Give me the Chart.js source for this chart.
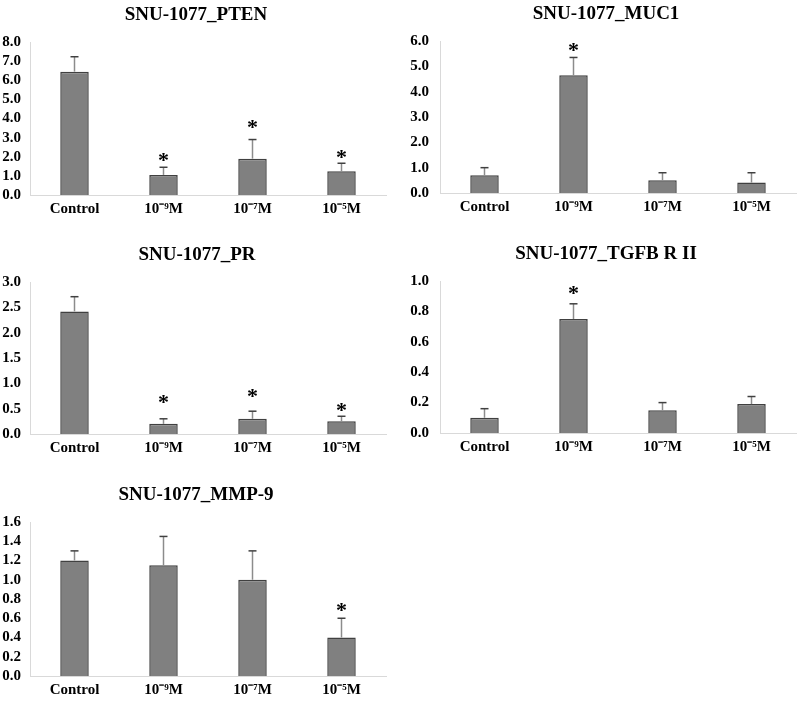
<!DOCTYPE html>
<html>
<head>
<meta charset="utf-8">
<title>SNU-1077 relative expression</title>
<script src="https://cdn.jsdelivr.net/npm/chart.js@4.4.1/dist/chart.umd.min.js"></script>
<style>
  html, body { margin: 0; padding: 0; background: #fff; }
  body { width: 798px; height: 708px; position: relative; overflow: hidden; }
  .panel { position: absolute; }
  .panel canvas { display: block; }
</style>
</head>
<body>
<div class="panel" style="left:0;top:0"><canvas id="cPTEN" width="398" height="225"></canvas></div>
<div class="panel" style="left:400px;top:-1px"><canvas id="cMUC1" width="398" height="224"></canvas></div>
<div class="panel" style="left:0;top:240px"><canvas id="cPR" width="398" height="224"></canvas></div>
<div class="panel" style="left:400px;top:239px"><canvas id="cTGFB" width="398" height="224"></canvas></div>
<div class="panel" style="left:0;top:480px"><canvas id="cMMP9" width="398" height="226"></canvas></div>

<script>
/* SNU-1077 · relative expression, 5 bar panels with SD error bars and * marks */

// ----- data -----
const CATEGORIES = ['Control', '10⁻⁹M', '10⁻⁷M', '10⁻⁵M'];

const PTEN_MEAN = [6.45, 1.05, 1.9, 1.24];
const PTEN_ERR  = [0.78, 0.4, 1.0, 0.42];
const PTEN_STAR = [null, 2.05, 3.75, 2.2];

const MUC1_MEAN = [0.7, 4.65, 0.5, 0.41];
const MUC1_ERR  = [0.3, 0.7, 0.3, 0.39];
const MUC1_STAR = [null, 5.82, null, null];

const PR_MEAN = [2.42, 0.2, 0.3, 0.25];
const PR_ERR  = [0.29, 0.1, 0.15, 0.1];
const PR_STAR = [null, 0.71, 0.83, 0.55];

const TGFB_MEAN = [0.1, 0.75, 0.15, 0.19];
const TGFB_ERR  = [0.06, 0.1, 0.05, 0.05];
const TGFB_STAR = [null, 0.95, null, null];

const MMP9_MEAN = [1.2, 1.15, 1.0, 0.4];
const MMP9_ERR  = [0.1, 0.3, 0.3, 0.2];
const MMP9_STAR = [null, null, null, 0.73];

// y-axis ranges: min, max, step
const PTEN_Y = [0, 8, 1];
const MUC1_Y = [0, 6, 1];
const PR_Y   = [0, 3, 0.5];
const TGFB_Y = [0, 1, 0.2];
const MMP9_Y = [0, 1.6, 0.2];

// ----- styles -----
const FONT = "'Liberation Serif','Times New Roman',serif";
const AXIS = '#d9d9d9';
const BAR  = '#808080';
const EDGE = '#404040';

// panel title, error bars, significance asterisks
const errorBars = {
  id: 'errorBars',
  afterDatasetsDraw(chart, args, opts) {
    const meta = chart.getDatasetMeta(0);
    const y = chart.scales.y;
    const vals = chart.data.datasets[0].data;
    const ctx = chart.ctx;
    ctx.save();
    meta.data.forEach((bar, i) => {
      const top = y.getPixelForValue(vals[i] + opts.err[i]);
      ctx.lineWidth = 1.5;
      ctx.strokeStyle = '#8c8c8c';
      ctx.beginPath();
      ctx.moveTo(bar.x, bar.y);
      ctx.lineTo(bar.x, top);
      ctx.stroke();
      ctx.strokeStyle = EDGE;
      ctx.beginPath();
      ctx.moveTo(bar.x - 4, top);
      ctx.lineTo(bar.x + 4, top);
      ctx.stroke();
      if (opts.stars[i] != null) {
        ctx.fillStyle = '#000';
        ctx.font = 'bold 22px ' + FONT;
        ctx.textAlign = 'center';
        ctx.textBaseline = 'alphabetic';
        ctx.fillText('*', bar.x, y.getPixelForValue(opts.stars[i]) + 11);
      }
    });
    // title
    ctx.fillStyle = '#000';
    ctx.font = 'bold 19px ' + FONT;
    ctx.textAlign = 'center';
    ctx.textBaseline = 'alphabetic';
    ctx.fillText(opts.title, opts.titleX, chart.chartArea.top - 22);
    ctx.restore();
  }
};

function buildPanel(id, title, mean, err, stars, yr, axisW, titleX) {
  const ctx = document.getElementById(id);
  return new Chart(ctx, {
    type: 'bar',
    data: {
      labels: CATEGORIES,
      datasets: [{
        data: mean,
        backgroundColor: BAR,
        borderColor: EDGE,
        borderWidth: 1.5,
        categoryPercentage: 1,
        barPercentage: 0.32
      }]
    },
    plugins: [errorBars],
    options: {
      responsive: false,
      animation: false,
      layout: { padding: { left: 0, right: 398 - axisW - 356, top: 42, bottom: 0 } },
      plugins: {
        legend: { display: false },
        tooltip: { enabled: false },
        title: { display: false },
        errorBars: { err: err, stars: stars, title: title, titleX: titleX }
      },
      scales: {
        x: {
          grid: { display: false, drawTicks: false },
          border: { display: true, color: AXIS, width: 1 },
          ticks: { color: '#000', padding: 5, maxRotation: 0, autoSkip: false, font: { family: FONT, size: 15, weight: 'bold' } },
          afterFit: (s) => { s.height = 30; }
        },
        y: {
          min: yr[0],
          max: yr[1],
          grid: { display: false, drawTicks: false },
          border: { display: true, color: AXIS, width: 1 },
          ticks: {
            stepSize: yr[2],
            autoSkip: false,
            color: '#000',
            padding: axisW > 30 ? 11 : 9,
            font: { family: FONT, size: 15, weight: 'bold' },
            callback: (v) => Number(v).toFixed(1)
          },
          afterFit: (s) => { s.width = axisW; }
        }
      }
    }
  });
}

buildPanel('cPTEN', 'SNU-1077_PTEN',      PTEN_MEAN, PTEN_ERR, PTEN_STAR, PTEN_Y, 30, 196);
buildPanel('cMUC1', 'SNU-1077_MUC1',      MUC1_MEAN, MUC1_ERR, MUC1_STAR, MUC1_Y, 40, 206);
buildPanel('cPR',   'SNU-1077_PR',        PR_MEAN,   PR_ERR,   PR_STAR,   PR_Y,   30, 197);
buildPanel('cTGFB', 'SNU-1077_TGFB R II', TGFB_MEAN, TGFB_ERR, TGFB_STAR, TGFB_Y, 40, 206);
buildPanel('cMMP9', 'SNU-1077_MMP-9',     MMP9_MEAN, MMP9_ERR, MMP9_STAR, MMP9_Y, 30, 196);
</script>
</body>
</html>
